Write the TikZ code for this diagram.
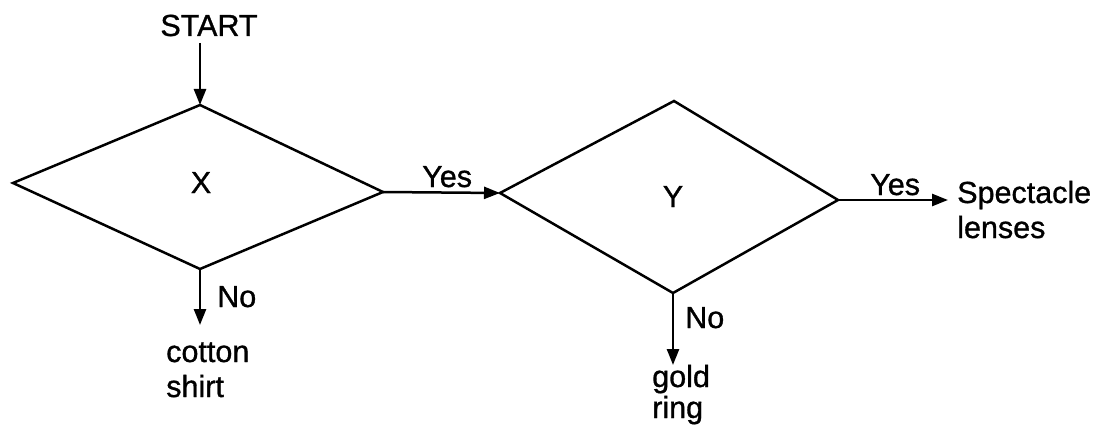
\documentclass[tikz,border=0pt]{standalone}
\usepackage{fontspec}
\setmainfont[FakeBold=1]{Liberation Sans}
\usetikzlibrary{arrows.meta}
\begin{document}
\begin{tikzpicture}[x=1pt,y=-1pt,
  line width=2.5pt,
  lbl/.style={font=\fontsize{30.5}{35}\selectfont, inner sep=0pt, anchor=base},
  lblw/.style={lbl, anchor=base west, align=left},
  arr/.style={-{Triangle[length=16pt,width=12pt]}},
  dia/.style={line join=miter}]
\useasboundingbox (0,0) rectangle (1094,425);
% diamond X
\coordinate (xT) at (200,105);
\coordinate (xL) at (13,183);
\coordinate (xR) at (383,192);
\coordinate (xB) at (200,269);
\draw[dia] (xT) -- (xR) -- (xB) -- (xL) -- cycle;
% diamond Y
\coordinate (yT) at (674,101);
\coordinate (yL) at (500,193);
\coordinate (yR) at (838,200);
\coordinate (yB) at (673,293);
\draw[dia] (yT) -- (yR) -- (yB) -- (yL) -- cycle;
% texts
\node[lbl] (start) at (209,36) {START};
\node[lbl] (xlab) at (201,193) {X};
\node[lbl] (ylab) at (673,207) {Y};
\node[lblw] (yes1) at (421,187) {Yes};
\node[lblw] (yes2) at (869,195) {Yes};
\node[lblw] (spec) at (956,238) {Spectacle\\lenses};
\node[lblw] (no1) at (216,307) {No};
\node[lblw] (cotton) at (165,397) {cotton\\shirt};
\node[lblw] (no2) at (684,328) {No};
\node[lblw, font=\fontsize{30.5}{31}\selectfont] (gold) at (651,418) {gold\\ring};
% connector ends
\coordinate (s0) at (200,43);
\coordinate (c1) at (200,325);
\coordinate (g1) at (673,365);
\coordinate (sp1) at (948,200);
% connectors
\draw[arr] (s0) -- (xT);
\draw[arr] (xR) -- (yL);
\draw[arr] (yR) -- (sp1);
\draw[arr] (xB) -- (c1);
\draw[arr] (yB) -- (g1);
\end{tikzpicture}
\end{document}
